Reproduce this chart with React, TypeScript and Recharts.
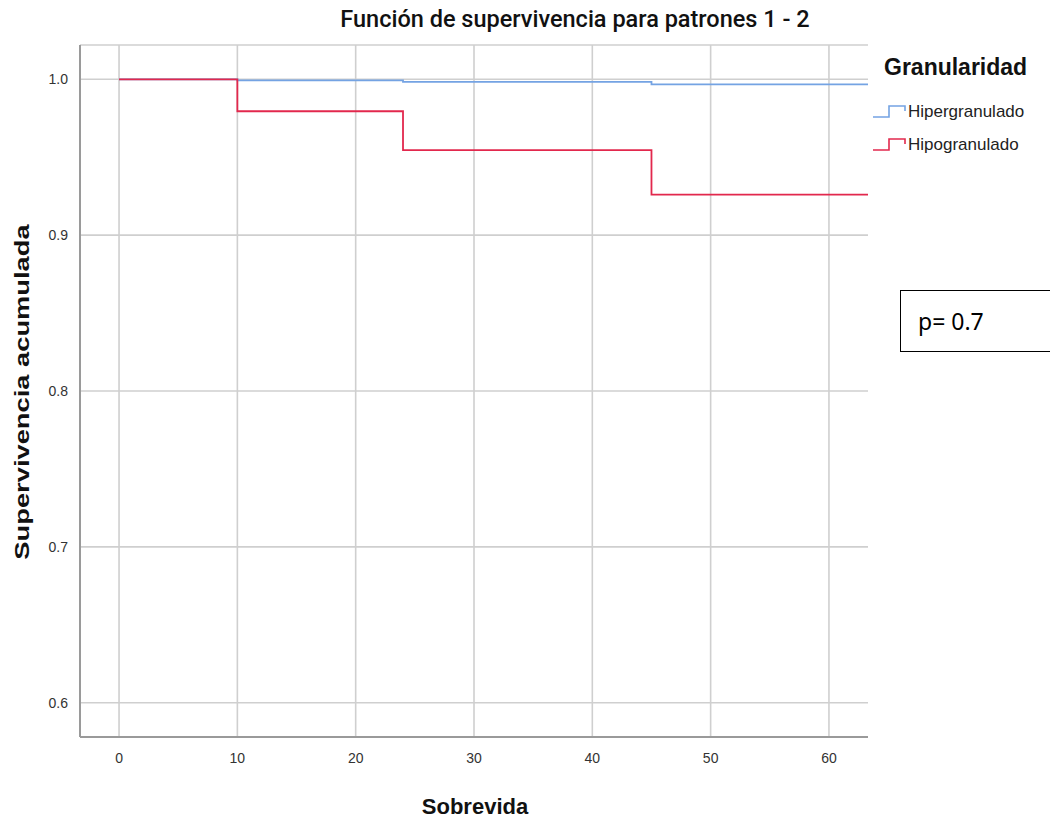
import { LineChart, Line, XAxis, YAxis, CartesianGrid } from 'recharts'

const times = [0, 10, 24, 45, 63.3]
const hipergranulado = [1.0, 0.9993, 0.9983, 0.9968, 0.9968]
const hipogranulado = [1.0, 0.9795, 0.9545, 0.926, 0.926]
const xTicks = [0, 10, 20, 30, 40, 50, 60]
const yTicks = [0.6, 0.7, 0.8, 0.9, 1.0]
const xDomain = [-3.3, 63.3]

const data = times.map((t, i) => ({
  t,
  hiper: hipergranulado[i],
  hipo: hipogranulado[i],
}))

const BLUE = '#74a3e3'
const RED = '#e2284d'
const FONT = '"Liberation Sans", Arial, sans-serif'

const legendItems = [
  { label: 'Hipergranulado', color: BLUE },
  { label: 'Hipogranulado', color: RED },
]

function StepIcon({ color }: { color: string }) {
  return (
    <svg width={34} height={16} style={{ display: 'block' }}>
      <path d="M1 13 H17 V2 H33 V7" fill="none" stroke={color} strokeWidth={1.6} />
    </svg>
  )
}

function LegendBox() {
  return (
    <div style={{ position: 'absolute', left: 872, top: 54, fontFamily: FONT }}>
      <div style={{ fontSize: 23, fontWeight: 'bold', color: '#111', marginLeft: 12, marginBottom: 14 }}>
        Granularidad
      </div>
      {legendItems.map((it) => (
        <div key={it.label} style={{ display: 'flex', alignItems: 'center', height: 33 }}>
          <StepIcon color={it.color} />
          <span style={{ fontSize: 17, color: '#222', marginLeft: 2 }}>{it.label}</span>
        </div>
      ))}
    </div>
  )
}

// vertical grid only at the x ticks (no line on the right edge of the plot)
function gridX(props: any) {
  const off = props.offset || {}
  const left = off.left ?? 80
  const width = off.width ?? 788
  return xTicks.map((t) => left + ((t - xDomain[0]) / (xDomain[1] - xDomain[0])) * width)
}

export default function App() {
  return (
    <div style={{ position: 'absolute', left: 0, top: 0, width: 1050, height: 825, background: '#fff' }}>
      <div
        style={{
          position: 'absolute',
          left: 80,
          width: 990,
          top: 5,
          textAlign: 'center',
          fontFamily: 'Roboto, "Liberation Sans", sans-serif',
          fontWeight: 500,
          fontSize: 23.5,
          color: '#111',
        }}
      >
        Función de supervivencia para patrones 1 - 2
      </div>
      <LineChart
        width={1050}
        height={825}
        data={data}
        margin={{ top: 45, right: 182, bottom: 58, left: 0 }}
      >
        <CartesianGrid stroke="#cfcfcf" strokeWidth={1.6} verticalCoordinatesGenerator={gridX} />
        <XAxis
          type="number"
          dataKey="t"
          domain={xDomain}
          ticks={xTicks}
          height={30}
          axisLine={{ stroke: '#9a9a9a', strokeWidth: 2 }}
          tickLine={false}
          tick={{ fill: '#333', fontSize: 14, fontFamily: FONT }}
          tickMargin={10}
          allowDataOverflow
        />
        <YAxis
          type="number"
          domain={[0.578, 1.022]}
          ticks={yTicks}
          width={80}
          axisLine={{ stroke: '#9a9a9a', strokeWidth: 2 }}
          tickLine={false}
          tick={{ fill: '#333', fontSize: 14, fontFamily: FONT }}
          tickFormatter={(v: number) => v.toFixed(1)}
          tickMargin={6}
          allowDataOverflow
        />
        <Line
          type="stepAfter"
          dataKey="hiper"
          stroke={BLUE}
          strokeWidth={1.8}
          dot={false}
          isAnimationActive={false}
        />
        <Line
          type="stepAfter"
          dataKey="hipo"
          stroke={RED}
          strokeWidth={1.8}
          dot={false}
          isAnimationActive={false}
        />
      </LineChart>
      <LegendBox />
      <div style={{ position: 'absolute', left: 0, top: 392, width: 0, height: 0 }}>
        <div
          style={{
            position: 'absolute',
            left: 22,
            top: 0,
            transform: 'translate(-50%, -50%) rotate(-90deg) scaleX(1.3)',
            whiteSpace: 'nowrap',
            fontFamily: FONT,
            fontWeight: 'bold',
            fontSize: 21,
            color: '#111',
          }}
        >
          Supervivencia acumulada
        </div>
      </div>
      <div
        style={{
          position: 'absolute',
          left: 375,
          width: 200,
          top: 794,
          textAlign: 'center',
          fontFamily: FONT,
          fontWeight: 'bold',
          fontSize: 22,
          color: '#111',
        }}
      >
        Sobrevida
      </div>
      <div
        style={{
          position: 'absolute',
          left: 900,
          top: 290,
          width: 160,
          height: 62,
          border: '1px solid #000',
          boxSizing: 'border-box',
          fontFamily: '"Noto Sans", "Open Sans", sans-serif',
          fontSize: 23,
          color: '#000',
          paddingLeft: 17,
          lineHeight: '60px',
        }}
      >
        p= 0.7
      </div>
    </div>
  )
}
